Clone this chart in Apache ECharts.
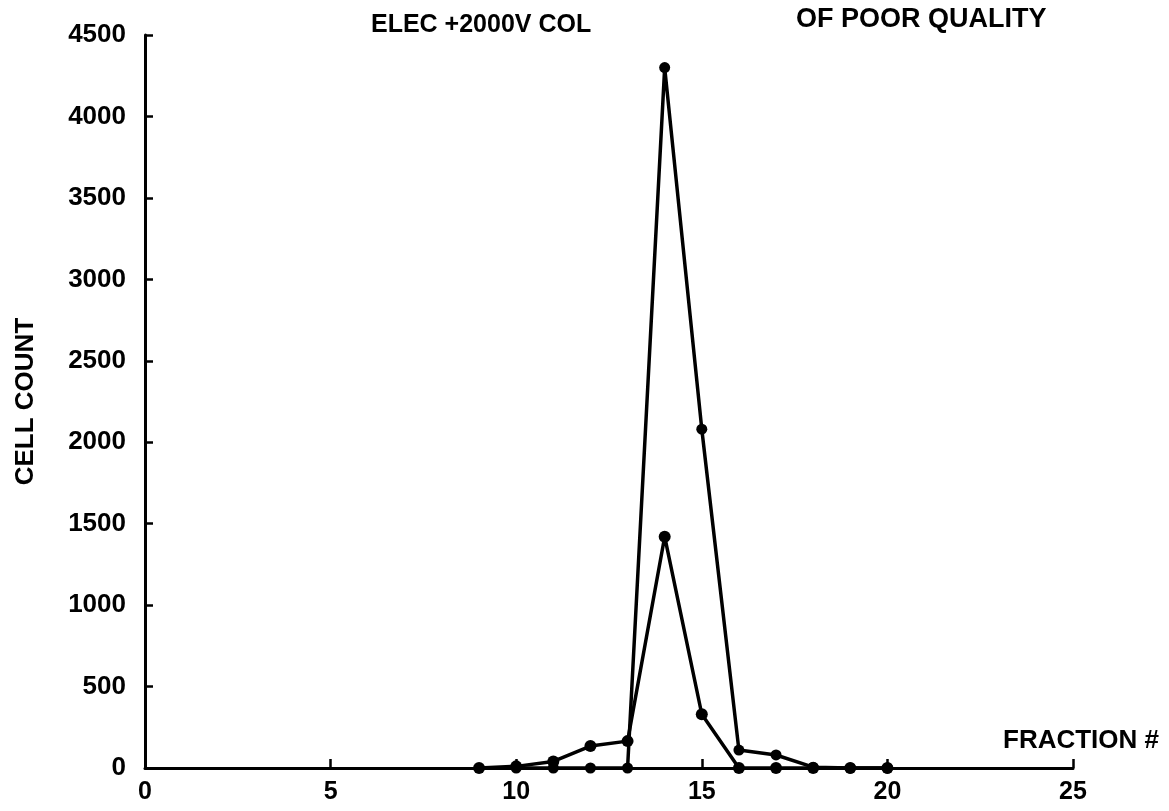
<!DOCTYPE html>
<html>
<head>
<meta charset="utf-8">
<script src="https://cdn.jsdelivr.net/npm/echarts@6/dist/echarts.min.js"></script>
<style>
html,body{margin:0;padding:0;background:#fff;}
#main{width:1169px;height:811px;}
</style>
</head>
<body>
<div id="main"></div>
<script>
// fraction numbers
var fractions = [9, 10, 11, 12, 13, 14, 15, 16, 17, 18, 19, 20];
// upper curve (peak ~4300 at fraction 14)
var countA = [null, 0, 0, 0, 0, 4300, 2080, 110, 80, 5, 0, 0];
// lower curve (peak ~1420 at fraction 14)
var countB = [0, 10, 40, 135, 165, 1420, 330, 0, 0, 0, 0, 0];

function pairs(xs, ys) {
    var out = [];
    for (var i = 0; i < xs.length; i++) {
        if (ys[i] !== null) out.push([xs[i], ys[i]]);
    }
    return out;
}

var chart = echarts.init(document.getElementById('main'));
var font = 'Liberation Sans';

var option = {
    animation: false,
    backgroundColor: '#fff',
    title: [
        {
            text: 'ELEC +2000V COL',
            left: 366, top: 8,
            textStyle: {fontFamily: font, fontWeight: 'bold', fontSize: 25, color: '#000'}
        },
        {
            text: 'OF POOR QUALITY',
            left: 791, top: 1,
            textStyle: {fontFamily: font, fontWeight: 'bold', fontSize: 27, color: '#000'}
        }
    ],
    grid: {
        left: 145,
        right: 96,
        top: 35,
        bottom: 43
    },
    xAxis: {
        type: 'value',
        min: 0,
        max: 25,
        interval: 5,
        name: 'FRACTION #',
        nameLocation: 'end',
        nameGap: 0,
        nameTextStyle: {
            fontFamily: font, fontWeight: 'bold', fontSize: 26, color: '#000',
            align: 'right', verticalAlign: 'bottom',
            padding: [0, -86, 14, 0]
        },
        axisLine: {show: true, lineStyle: {color: '#000', width: 3}},
        axisTick: {show: true, inside: true, length: 9, lineStyle: {color: '#000', width: 2.5}},
        splitLine: {show: false},
        axisLabel: {fontFamily: font, fontWeight: 'bold', fontSize: 25, color: '#000', margin: 12}
    },
    yAxis: {
        type: 'value',
        min: 0,
        max: 4500,
        interval: 500,
        name: 'CELL COUNT',
        nameLocation: 'middle',
        nameGap: 106,
        nameRotate: 90,
        nameTextStyle: {fontFamily: font, fontWeight: 'bold', fontSize: 26, color: '#000'},
        axisLine: {show: true, lineStyle: {color: '#000', width: 3}},
        axisTick: {show: true, inside: true, length: 8, lineStyle: {color: '#000', width: 2.5}},
        splitLine: {show: false},
        axisLabel: {
            fontFamily: font, fontWeight: 'bold', fontSize: 26, color: '#000', margin: 19,
            formatter: function (v) { return String(v); }
        }
    },
    series: [
        {
            name: 'A',
            type: 'line',
            data: pairs(fractions, countA),
            symbol: 'circle',
            symbolSize: 11,
            itemStyle: {color: '#000'},
            lineStyle: {color: '#000', width: 3.5}
        },
        {
            name: 'B',
            type: 'line',
            data: pairs(fractions, countB),
            symbol: 'circle',
            symbolSize: 12,
            itemStyle: {color: '#000'},
            lineStyle: {color: '#000', width: 3.5}
        }
    ]
};

chart.setOption(option);
window.onresize = function () {
    chart.resize();
};
</script>
</body>
</html>
